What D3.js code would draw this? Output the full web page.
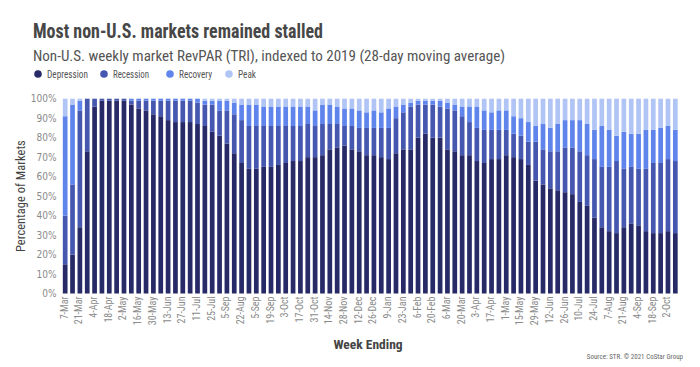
<!DOCTYPE html>
<html>
<head>
<meta charset="utf-8">
<script src="https://cdn.jsdelivr.net/npm/d3@7"></script>
<style>
  body { margin: 0; background: #fff; }
  svg text { font-family: "Liberation Sans Narrow", "Roboto Condensed", "DejaVu Sans Condensed", "Roboto", sans-serif; }
</style>
</head>
<body>
<div id="chart"></div>
<script>
// weeks ending, 2020-03-07 .. 2021-10-09
var weeks = ["7-Mar","14-Mar","21-Mar","28-Mar","4-Apr","11-Apr","18-Apr","25-Apr","2-May","9-May",
  "16-May","23-May","30-May","6-Jun","13-Jun","20-Jun","27-Jun","4-Jul","11-Jul","18-Jul",
  "25-Jul","1-Aug","8-Aug","15-Aug","22-Aug","29-Aug","5-Sep","12-Sep","19-Sep","26-Sep",
  "3-Oct","10-Oct","17-Oct","24-Oct","31-Oct","7-Nov","14-Nov","21-Nov","28-Nov","5-Dec",
  "12-Dec","19-Dec","26-Dec","2-Jan","9-Jan","16-Jan","23-Jan","30-Jan","6-Feb","13-Feb",
  "20-Feb","27-Feb","6-Mar","13-Mar","20-Mar","27-Mar","3-Apr","10-Apr","17-Apr","24-Apr",
  "1-May","8-May","15-May","22-May","29-May","5-Jun","12-Jun","19-Jun","26-Jun","3-Jul",
  "10-Jul","17-Jul","24-Jul","31-Jul","7-Aug","14-Aug","21-Aug","28-Aug","4-Sep","11-Sep",
  "18-Sep","25-Sep","2-Oct","9-Oct"];

// labels printed under every other bar (as in the original)
var tickLabels = ["7-Mar","21-Mar","4-Apr","18-Apr","2-May","16-May","30-May","13-Jun","27-Jun","11-Jul",
  "25-Jul","5-Sep","22-Aug","5-Sep","19-Sep","3-Oct","17-Oct","31-Oct","14-Nov","28-Nov",
  "12-Dec","26-Dec","9-Jan","23-Jan","6-Feb","20-Feb","6-Mar","20-Mar","3-Apr","17-Apr",
  "1-May","15-May","29-May","12-Jun","26-Jun","10-Jul","24-Jul","7-Aug","21-Aug","4-Sep",
  "18-Sep","2-Oct"];

var depression = [15,20,34,73,96,99,99,99,99,97, 95,94,92,91,89,88,88,88,87,86,
  83,81,77,72,67,64,64,65,65,66, 67,68,68,70,70,71,74,75,76,74,
  73,71,71,70,69,72,74,74,80,82, 80,80,74,73,71,71,68,67,69,69,
  71,70,69,66,58,56,54,53,52,51, 47,45,39,34,32,31,34,36,35,32,
  31,31,32,31];
var recession = [25,36,60,27,4,1,1,1,1,2, 4,5,7,8,10,11,11,11,11,11,
  14,13,17,20,22,22,22,21,21,20, 19,18,18,17,16,16,13,12,10,12,
  12,14,14,15,16,18,19,22,17,15, 17,16,21,21,20,17,17,17,15,15,
  13,12,12,12,20,18,19,20,23,24, 26,26,30,31,33,37,30,29,29,32,
  36,36,37,37];
var recovery = [51,41,5,0,0,0,0,0,0,1, 1,1,1,1,1,1,1,1,2,2,
  2,5,5,6,8,11,11,10,10,10, 10,10,10,9,8,10,10,9,9,9,
  9,8,9,8,10,6,4,2,2,2, 2,3,3,3,5,8,11,10,9,10,
  10,9,9,10,8,13,12,14,14,14, 16,16,15,21,19,13,19,17,18,20,
  17,18,17,16];
var peak = [9,3,1,0,0,0,0,0,0,0, 0,0,0,0,0,0,0,0,0,1,
  1,1,1,2,3,3,3,4,4,4, 4,4,4,4,6,3,3,4,5,5,
  6,7,6,7,5,4,3,2,1,1, 1,1,2,3,4,4,4,6,7,6,
  6,9,10,12,14,13,15,13,11,11, 11,13,16,14,16,19,17,18,18,16,
  16,15,14,16];

var seriesNames = ["Depression", "Recession", "Recovery", "Peak"];
var seriesColors = ["#272a66", "#4657b0", "#5f84ec", "#b0c5f5"];

var rows = weeks.map(function(w, i) {
    return { i: i, week: w, Depression: depression[i], Recession: recession[i], Recovery: recovery[i], Peak: peak[i] };
});

var width = 700, height = 367;
var margin = { top: 98.7, right: 21, bottom: 73.5, left: 61.5 };

var svg = d3.select("#chart").append("svg")
    .attr("width", width)
    .attr("height", height);

// titles
svg.append("text")
    .attr("x", 33).attr("y", 38)
    .attr("textLength", 290).attr("lengthAdjust", "spacingAndGlyphs")
    .style("font-size", "21px").style("font-weight", "bold").style("fill", "#474747")
    .text("Most non-U.S. markets remained stalled");

svg.append("text")
    .attr("x", 33).attr("y", 61)
    .attr("textLength", 472).attr("lengthAdjust", "spacingAndGlyphs")
    .style("font-size", "15px").style("fill", "#555")
    .text("Non-U.S. weekly market RevPAR (TRI), indexed to 2019 (28-day moving average)");

// legend
var legendX = [38, 104, 170, 229];
var legendW = [41, 36, 33, 18];
var legend = svg.append("g");
seriesNames.forEach(function(name, k) {
    legend.append("circle")
        .attr("cx", legendX[k]).attr("cy", 74).attr("r", 3.8)
        .style("fill", seriesColors[k]);
    legend.append("text")
        .attr("x", legendX[k] + 9).attr("y", 77.5)
        .attr("textLength", legendW[k]).attr("lengthAdjust", "spacingAndGlyphs")
        .style("font-size", "10.5px").style("fill", "#555")
        .text(name);
});

var x = d3.scaleBand()
    .domain(d3.range(rows.length))
    .range([margin.left, width - margin.right])
    .paddingInner(0.36)
    .paddingOuter(0.18);

var y = d3.scaleLinear()
    .domain([0, 100])
    .range([height - margin.bottom, margin.top]);

var stack = d3.stack().keys(seriesNames);
var layers = stack(rows);

svg.append("g").selectAll("g")
    .data(layers)
    .enter().append("g")
    .style("fill", function(d, k) { return seriesColors[k]; })
    .selectAll("rect")
    .data(function(d) { return d; })
    .enter().append("rect")
    .attr("x", function(d) { return x(d.data.i); })
    .attr("width", x.bandwidth())
    .attr("y", function(d) { return y(d[1]); })
    .attr("height", function(d) { return y(d[0]) - y(d[1]); });

// y axis
var yAxis = svg.append("g")
    .attr("transform", "translate(" + (margin.left - 5) + ",0)")
    .call(d3.axisLeft(y).tickValues(d3.range(0, 101, 10)).tickFormat(function(d) { return d + "%"; }).tickSize(0).tickPadding(0));
yAxis.select(".domain").remove();
yAxis.selectAll("text")
    .style("font-size", "10px").style("fill", "#8a8a8a")
    .style("font-family", "\"Liberation Sans Narrow\", \"DejaVu Sans Condensed\", sans-serif");

// x axis
var xAxis = svg.append("g")
    .attr("transform", "translate(0," + (height - margin.bottom) + ")")
    .call(d3.axisBottom(x)
        .tickValues(d3.range(0, rows.length, 2))
        .tickFormat(function(i) { return tickLabels[i / 2]; })
        .tickSize(0));
xAxis.select(".domain").remove();
xAxis.selectAll("text")
    .attr("transform", "rotate(-90)")
    .attr("x", -3).attr("y", -1).attr("dy", "0.35em")
    .style("text-anchor", "end")
    .style("font-size", "10px").style("fill", "#8a8a8a");

// axis titles
svg.append("text")
    .attr("transform", "translate(25," + ((margin.top + height - margin.bottom) / 2) + ") rotate(-90)")
    .style("text-anchor", "middle")
    .style("font-size", "12.5px").style("fill", "#444")
    .text("Percentage of Markets");

svg.append("text")
    .attr("x", 368).attr("y", 349)
    .style("text-anchor", "middle")
    .style("font-size", "13.5px").style("font-weight", "bold").style("fill", "#444")
    .text("Week Ending");

svg.append("text")
    .attr("x", 683).attr("y", 359)
    .style("text-anchor", "end")
    .style("font-size", "7px").style("fill", "#666")
    .text("Source: STR. © 2021 CoStar Group");
</script>
</body>
</html>
